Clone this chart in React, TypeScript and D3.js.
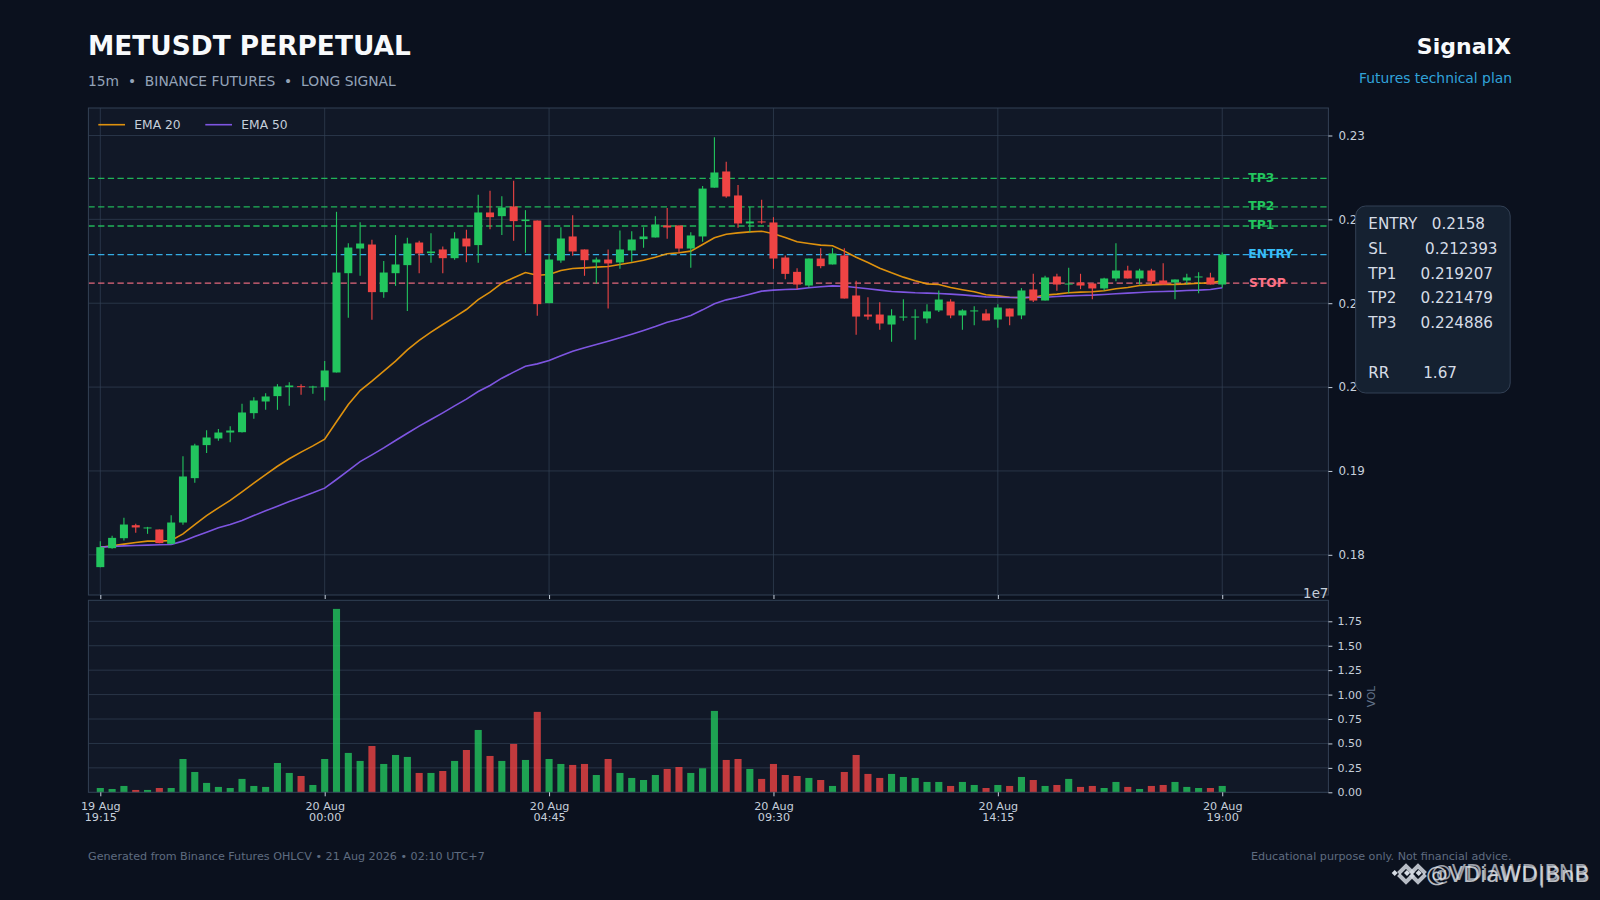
import React, { useEffect, useRef } from "react";
import * as d3 from "d3";

const opens = [
  0.17853, 0.18079, 0.18198, 0.18353, 0.18318, 0.18302, 0.18131, 0.18385, 0.18914, 0.19308, 0.19387, 0.19458,
  0.19462, 0.19689, 0.19828, 0.19892, 0.19999, 0.20011, 0.19999, 0.19999, 0.20174, 0.21358, 0.21652, 0.217,
  0.21132, 0.21358, 0.21454, 0.21724, 0.21597, 0.21641, 0.21537, 0.21772, 0.21693, 0.22082, 0.22038, 0.22154,
  0.21979, 0.21986, 0.21001, 0.21509, 0.21796, 0.21641, 0.21486, 0.21521, 0.21486, 0.21629, 0.21764, 0.21784,
  0.21927, 0.21927, 0.21652, 0.21796, 0.22378, 0.22571, 0.22285, 0.21951, 0.21975, 0.21963, 0.21545, 0.21374,
  0.21211, 0.21533, 0.21462, 0.21569, 0.21092, 0.20865, 0.20865, 0.20746, 0.2083, 0.2083, 0.20818, 0.20914,
  0.2102, 0.20854, 0.20902, 0.20878, 0.20806, 0.20937, 0.20854, 0.21164, 0.21032, 0.21319, 0.21223, 0.21247,
  0.21235, 0.21176, 0.21295, 0.2139, 0.21295, 0.2139, 0.21271, 0.21247, 0.21271, 0.21307, 0.21307, 0.21223,
];
const highs = [
  0.18163, 0.18226, 0.18441, 0.18369, 0.18333, 0.18302, 0.18473, 0.19176, 0.19323, 0.19486, 0.19501, 0.19534,
  0.198, 0.1988, 0.19927, 0.20035, 0.20059, 0.20035, 0.20015, 0.2031, 0.2209, 0.21716, 0.21966, 0.21756,
  0.21502, 0.21812, 0.2178, 0.21744, 0.21835, 0.21677, 0.21847, 0.21875, 0.22292, 0.2234, 0.22276, 0.22459,
  0.2211, 0.21986, 0.21589, 0.21907, 0.2205, 0.21641, 0.21545, 0.21641, 0.21867, 0.21859, 0.21907, 0.22038,
  0.22134, 0.21927, 0.21847, 0.22398, 0.2298, 0.22686, 0.2241, 0.22146, 0.22233, 0.22026, 0.21569, 0.21418,
  0.21533, 0.21656, 0.21656, 0.21656, 0.21267, 0.21072, 0.21012, 0.20929, 0.21048, 0.20929, 0.20989, 0.21152,
  0.21048, 0.20929, 0.20965, 0.20929, 0.20989, 0.20937, 0.2118, 0.21351, 0.21327, 0.21351, 0.21422, 0.21351,
  0.21235, 0.21303, 0.21716, 0.21446, 0.2141, 0.2141, 0.21478, 0.21283, 0.21351, 0.2137, 0.21362, 0.21605,
];
const lows = [
  0.17853, 0.18071, 0.18171, 0.18262, 0.1825, 0.18139, 0.18123, 0.18357, 0.18858, 0.19215, 0.19359, 0.19343,
  0.19458, 0.19621, 0.19729, 0.19729, 0.19776, 0.19908, 0.1992, 0.1984, 0.20174, 0.20826, 0.21327, 0.20802,
  0.21064, 0.21207, 0.20906, 0.21358, 0.21482, 0.21358, 0.21517, 0.2149, 0.21482, 0.21883, 0.21812, 0.21744,
  0.21601, 0.2085, 0.21001, 0.21482, 0.21565, 0.21327, 0.21234, 0.20938, 0.2141, 0.21494, 0.21661, 0.21784,
  0.21768, 0.21601, 0.21422, 0.21732, 0.22378, 0.22257, 0.219, 0.21847, 0.21947, 0.2141, 0.21287, 0.21168,
  0.21187, 0.21418, 0.21462, 0.21056, 0.20623, 0.20802, 0.20683, 0.2054, 0.2079, 0.20564, 0.20762, 0.20894,
  0.20822, 0.20683, 0.20738, 0.20794, 0.20707, 0.20738, 0.2081, 0.21016, 0.21032, 0.21148, 0.2112, 0.21168,
  0.21048, 0.21152, 0.21263, 0.21295, 0.21223, 0.21223, 0.21223, 0.21048, 0.21223, 0.2112, 0.21223, 0.21184,
];
const closes = [
  0.18091, 0.18202, 0.18361, 0.18326, 0.18326, 0.18139, 0.18385, 0.18934, 0.19304, 0.19399, 0.19458, 0.19482,
  0.19697, 0.1984, 0.19888, 0.20007, 0.20019, 0.19999, 0.20007, 0.20198, 0.21366, 0.21664, 0.21712, 0.21132,
  0.21366, 0.21462, 0.21712, 0.21593, 0.21617, 0.21537, 0.21772, 0.21677, 0.22082, 0.22026, 0.22142, 0.21979,
  0.21998, 0.20989, 0.21521, 0.21772, 0.21617, 0.21513, 0.21521, 0.21474, 0.21641, 0.2176, 0.21796, 0.21939,
  0.21903, 0.21652, 0.21808, 0.22367, 0.22559, 0.22273, 0.21951, 0.21975, 0.21963, 0.21533, 0.2135, 0.21223,
  0.21533, 0.21442, 0.21593, 0.21056, 0.20841, 0.20841, 0.20758, 0.20854, 0.20841, 0.20841, 0.20902, 0.21044,
  0.20854, 0.20914, 0.20914, 0.20794, 0.20949, 0.20841, 0.21152, 0.21032, 0.21307, 0.21223, 0.21235, 0.21211,
  0.21176, 0.21295, 0.2139, 0.21295, 0.2139, 0.21259, 0.21223, 0.21283, 0.21307, 0.21319, 0.21223, 0.2158,
];
const ema20 = [
  0.18091, 0.18107, 0.18127, 0.18147, 0.18163, 0.18163, 0.18171, 0.1825, 0.18361, 0.18468, 0.1856, 0.18648,
  0.18751, 0.18854, 0.18957, 0.19056, 0.19145, 0.19224, 0.19299, 0.19379, 0.19586, 0.19792, 0.19959, 0.2007,
  0.2019, 0.2031, 0.20444, 0.20556, 0.20655, 0.20746, 0.20834, 0.20925, 0.21044, 0.21132, 0.21239, 0.21303,
  0.21366, 0.21334, 0.21342, 0.2139, 0.21414, 0.21422, 0.2143, 0.21438, 0.21462, 0.21486, 0.21513, 0.21549,
  0.21589, 0.21601, 0.21621, 0.217, 0.2178, 0.21823, 0.21839, 0.21851, 0.21859, 0.21828, 0.21784, 0.21732,
  0.21712, 0.21693, 0.21685, 0.21621, 0.21549, 0.21486, 0.21418, 0.21362, 0.21311, 0.21267, 0.21231, 0.21223,
  0.21187, 0.2116, 0.21136, 0.211, 0.21088, 0.21072, 0.21064, 0.21072, 0.21096, 0.21108, 0.21124, 0.21132,
  0.21136, 0.21148, 0.21172, 0.21187, 0.21211, 0.21219, 0.21223, 0.21223, 0.21231, 0.21239, 0.21243, 0.21267,
];
const ema50 = [
  0.18091, 0.18099, 0.18107, 0.18111, 0.18115, 0.18119, 0.18123, 0.18163, 0.18218, 0.1827, 0.18322, 0.18361,
  0.18409, 0.18468, 0.18524, 0.1858, 0.18636, 0.18687, 0.18739, 0.18795, 0.18898, 0.19005, 0.19112, 0.19192,
  0.19275, 0.19363, 0.1945, 0.19534, 0.19613, 0.19693, 0.19776, 0.19856, 0.19947, 0.20019, 0.20106, 0.20178,
  0.20249, 0.20277, 0.20317, 0.20373, 0.20428, 0.20468, 0.20508, 0.20547, 0.20587, 0.20631, 0.20675, 0.20722,
  0.20774, 0.2081, 0.20854, 0.20921, 0.20993, 0.2104, 0.21072, 0.21108, 0.21144, 0.21156, 0.21164, 0.21168,
  0.21184, 0.21196, 0.21207, 0.21203, 0.21187, 0.21172, 0.21156, 0.2114, 0.21132, 0.21124, 0.2112, 0.21116,
  0.21108, 0.211, 0.21088, 0.21076, 0.21072, 0.21068, 0.21068, 0.21072, 0.21072, 0.2108, 0.21088, 0.21092,
  0.21096, 0.21104, 0.21112, 0.2112, 0.21128, 0.21136, 0.2114, 0.21144, 0.21152, 0.21156, 0.21164, 0.21184,
];
// volume in units of 1e7
const volumes = [
  0.044, 0.034, 0.065, 0.024, 0.024, 0.044, 0.044, 0.341, 0.208, 0.096, 0.055, 0.044,
  0.137, 0.065, 0.055, 0.3, 0.198, 0.167, 0.075, 0.341, 1.877, 0.403, 0.321, 0.474,
  0.29, 0.382, 0.362, 0.198, 0.198, 0.218, 0.321, 0.433, 0.638, 0.372, 0.321, 0.495,
  0.331, 0.823, 0.341, 0.29, 0.28, 0.29, 0.177, 0.341, 0.198, 0.147, 0.126, 0.177,
  0.239, 0.259, 0.198, 0.246, 0.833, 0.331, 0.341, 0.239, 0.137, 0.29, 0.177, 0.167,
  0.147, 0.126, 0.065, 0.208, 0.382, 0.188, 0.147, 0.188, 0.157, 0.147, 0.106, 0.106,
  0.065, 0.106, 0.075, 0.044, 0.075, 0.065, 0.157, 0.126, 0.065, 0.075, 0.137, 0.055,
  0.065, 0.044, 0.106, 0.055, 0.034, 0.065, 0.075, 0.106, 0.055, 0.044, 0.044, 0.065,
];

const xTickIndex = [0, 19, 38, 57, 76, 95];
const xTickDates = ["19 Aug", "20 Aug", "20 Aug", "20 Aug", "20 Aug", "20 Aug"];
const xTickTimes = ["19:15", "00:00", "04:45", "09:30", "14:15", "19:00"];
const priceTicks = [0.18, 0.19, 0.2, 0.21, 0.22, 0.23];
const volTicks = [0, 0.25, 0.5, 0.75, 1, 1.25, 1.5, 1.75];

const levelNames = ["TP3", "TP2", "TP1", "ENTRY", "STOP"];
const levelValues = [0.224886, 0.221479, 0.219207, 0.2158, 0.212393];
const levelColors = ["#22c55e", "#22c55e", "#22c55e", "#38bdf8", "#fb7185"];

const planLines = [
  "ENTRY   0.2158",
  "SL        0.212393",
  "TP1     0.219207",
  "TP2     0.221479",
  "TP3     0.224886",
  "",
  "RR       1.67",
];

const FONT = "'DejaVu Sans', sans-serif";
const UP = "#22c55e";
const DOWN = "#ef4444";
const BG = "#0b111e";
const PANEL = "#111827";
const SPINE = "#334155";
const TEXT = "#c6cfdb";

const App = () => {
  const svgRef = useRef(null);

  useEffect(() => {
    const svg = d3.select(svgRef.current);
    svg.selectAll("*").remove();

    const left = 88.4;
    const right = 1328.4;
    const x = d3.scaleLinear().domain([-1.008, 103.99]).range([left, right]);
    const y = d3.scaleLinear().domain([0.175147, 0.233219]).range([595.5, 108.5]);
    const v = d3.scaleLinear().domain([0, 1.965]).range([792.3, 600.3]);
    const idx = d3.range(opens.length);
    const bodyW = x(0.68) - x(0);
    const volW = x(0.6) - x(0);

    svg.append("rect").attr("width", 1600).attr("height", 900).attr("fill", BG);

    const txt = (
      parent: any,
      s: string,
      px: number,
      py: number,
      size: number,
      fill: string,
      anchor = "start",
      weight = "normal"
    ) =>
      parent
        .append("text")
        .attr("x", px)
        .attr("y", py)
        .attr("font-family", FONT)
        .attr("font-size", size)
        .attr("font-weight", weight)
        .attr("fill", fill)
        .attr("text-anchor", anchor)
        .style("white-space", "pre")
        .text(s);

    // header
    txt(svg, "METUSDT PERPETUAL", 88, 54.5, 26.4, "#f8fafc", "start", "bold");
    txt(svg, "15m  •  BINANCE FUTURES  •  LONG SIGNAL", 88, 86, 13.85, "#94a3b8");
    txt(svg, "SignalX", 1511, 54, 22, "#f8fafc", "end", "bold");
    txt(svg, "Futures technical plan", 1512, 83, 13.85, "#38bdf8", "end").attr("opacity", 0.85);

    // panels
    svg.append("rect").attr("x", left).attr("y", 108).attr("width", right - left).attr("height", 487).attr("fill", PANEL);
    svg.append("rect").attr("x", left).attr("y", 600.3).attr("width", right - left).attr("height", 192).attr("fill", PANEL);

    // grid
    const grid = svg.append("g").attr("stroke", SPINE).attr("stroke-opacity", 0.7).attr("stroke-width", 1);
    grid.selectAll("line.py").data(priceTicks).enter().append("line")
      .attr("x1", left).attr("x2", right).attr("y1", (d) => y(d)).attr("y2", (d) => y(d));
    grid.selectAll("line.vx").data(xTickIndex).enter().append("line").attr("class", "vx")
      .attr("x1", (d) => x(d)).attr("x2", (d) => x(d)).attr("y1", 108).attr("y2", 595);
    grid.selectAll("line.vy").data(volTicks.slice(1)).enter().append("line").attr("class", "vy")
      .attr("x1", left).attr("x2", right).attr("y1", (d) => v(d)).attr("y2", (d) => v(d));

    // level labels and dashed lines
    levelNames.forEach((name, i) => {
      txt(svg, name, name === "STOP" ? 1249 : 1248.3, y(levelValues[i]) + 3.4, 12.3, levelColors[i], "start", "bold");
      svg.append("line")
        .attr("x1", left).attr("x2", right)
        .attr("y1", y(levelValues[i])).attr("y2", y(levelValues[i]))
        .attr("stroke", levelColors[i])
        .attr("stroke-opacity", 0.9)
        .attr("stroke-width", 1.3)
        .attr("stroke-dasharray", "6.3 3.4");
    });

    // EMA lines
    const emaPath = (values: number[], color: string) =>
      svg.append("path")
        .attr("d", d3.line<number>().x((_, i) => x(i)).y((d) => y(d))(values))
        .attr("fill", "none")
        .attr("stroke", color)
        .attr("stroke-opacity", 0.9)
        .attr("stroke-width", 1.6);
    emaPath(ema20, "#f59e0b");
    emaPath(ema50, "#8b5cf6");

    // candles
    const candleColor = (i: number) => (closes[i] >= opens[i] ? UP : DOWN);
    svg.append("g").selectAll("line").data(idx).enter().append("line")
      .attr("x1", (i) => x(i)).attr("x2", (i) => x(i))
      .attr("y1", (i) => y(highs[i])).attr("y2", (i) => y(lows[i]))
      .attr("stroke", candleColor)
      .attr("stroke-width", 1.1);
    svg.append("g").selectAll("rect").data(idx).enter().append("rect")
      .attr("x", (i) => x(i) - bodyW / 2)
      .attr("width", bodyW)
      .attr("y", (i) => y(Math.max(opens[i], closes[i])))
      .attr("height", (i) => Math.max(1, Math.abs(y(opens[i]) - y(closes[i]))))
      .attr("fill", candleColor);

    // volume bars
    svg.append("g").selectAll("rect").data(idx).enter().append("rect")
      .attr("x", (i) => x(i) - volW / 2)
      .attr("width", volW)
      .attr("y", (i) => v(volumes[i]))
      .attr("height", (i) => v(0) - v(volumes[i]))
      .attr("fill", candleColor)
      .attr("fill-opacity", 0.8);

    // legend
    const legend = svg.append("g");
    [["EMA 20", "#f59e0b", 98.3], ["EMA 50", "#8b5cf6", 205.3]].forEach(([label, color, lx]: any) => {
      legend.append("line").attr("x1", lx).attr("x2", lx + 26.7).attr("y1", 124.7).attr("y2", 124.7)
        .attr("stroke", color).attr("stroke-opacity", 0.9).attr("stroke-width", 1.6);
      txt(legend, label, lx + 36, 129, 12.3, TEXT);
    });

    // frames
    [[108, 487], [600.3, 192]].forEach(([top, h]) => {
      svg.append("rect").attr("x", left).attr("y", top).attr("width", right - left).attr("height", h)
        .attr("fill", "none").attr("stroke", SPINE).attr("stroke-width", 1);
    });

    // axes
    const styleAxis = (g: any, size: number) => {
      g.select(".domain").remove();
      g.selectAll("line").attr("stroke", TEXT).attr("stroke-width", 1);
      g.selectAll("text").attr("fill", TEXT).attr("font-family", FONT).attr("font-size", size);
    };
    const priceAxis = svg.append("g").attr("transform", `translate(${right},0)`)
      .call(d3.axisRight(y).tickValues(priceTicks).tickSize(4).tickPadding(6).tickFormat((d) => String(d)));
    styleAxis(priceAxis, 11.9);
    const volAxis = svg.append("g").attr("transform", `translate(${right},0)`)
      .call(d3.axisRight(v).tickValues(volTicks).tickSize(4).tickPadding(5).tickFormat(d3.format(".2f")));
    styleAxis(volAxis, 11);
    const topTicks = svg.append("g").attr("transform", "translate(0,595)")
      .call(d3.axisBottom(x).tickValues(xTickIndex).tickSize(4).tickFormat(() => ""));
    styleAxis(topTicks, 10);
    const timeAxis = svg.append("g").attr("transform", "translate(0,792.3)")
      .call(d3.axisBottom(x).tickValues(xTickIndex).tickSize(4).tickFormat(() => ""));
    styleAxis(timeAxis, 11.2);
    timeAxis.selectAll("text").each(function (_, i) {
      const t = d3.select(this).attr("y", null).attr("dy", null);
      t.append("tspan").attr("x", 0).attr("y", 17.7).text(xTickDates[i]);
      t.append("tspan").attr("x", 0).attr("y", 28.5).text(xTickTimes[i]);
    });

    txt(svg, "1e7", 1328.4, 597.5, 13.4, TEXT, "end");
    txt(svg, "VOL", 0, 0, 10.6, "#64748b", "middle").attr("transform", "translate(1375,696.5) rotate(-90)");

    // plan box
    svg.append("rect").attr("x", 1355.7).attr("y", 206).attr("width", 154.5).attr("height", 187).attr("rx", 10)
      .attr("fill", "#152131").attr("stroke", SPINE).attr("stroke-width", 1);
    planLines.forEach((s, i) => txt(svg, s, 1368.3, 229.3 + i * 24.7, 15.2, "#d5dce6"));

    // footer
    txt(svg, "Generated from Binance Futures OHLCV • 21 Aug 2026 • 02:10 UTC+7", 88, 860, 11.15, "#5f6c80");
    txt(svg, "Educational purpose only. Not financial advice.", 1511.5, 860, 11.15, "#5f6c80", "end");

    // watermark
    const wm = svg.append("g");
    [1394.7, 1407, 1418.7].forEach((cx) => {
      wm.append("path")
        .attr("d", `M${cx - 3} 873L${cx} 870L${cx + 3} 873L${cx} 876Z`)
        .attr("fill", "#d6dbe3");
    });
    [1406, 1418].forEach((cx) => {
      [[866, 1], [882, -1]].forEach(([yy, s]) => {
        wm.append("path")
          .attr("d", `M${cx - 7.5} ${yy + s * 7.5}L${cx} ${yy}L${cx + 7.5} ${yy + s * 7.5}`)
          .attr("fill", "none")
          .attr("stroke", "#d6dbe3")
          .attr("stroke-width", 4)
          .attr("opacity", 0.85);
      });
    });
    txt(svg, "@VDiAWD|BNB", 1431, 880, 20.8, "#d6dbe3").attr("opacity", 0.7);
    txt(svg, "@VDiaWD|BnB", 1426, 882, 22, "#e5e7eb").attr("opacity", 0.8);
  }, []);

  return (
    <svg
      ref={svgRef}
      width={1600}
      height={900}
      style={{ position: "absolute", left: 0, top: 0, display: "block" }}
    />
  );
};

export default App;
